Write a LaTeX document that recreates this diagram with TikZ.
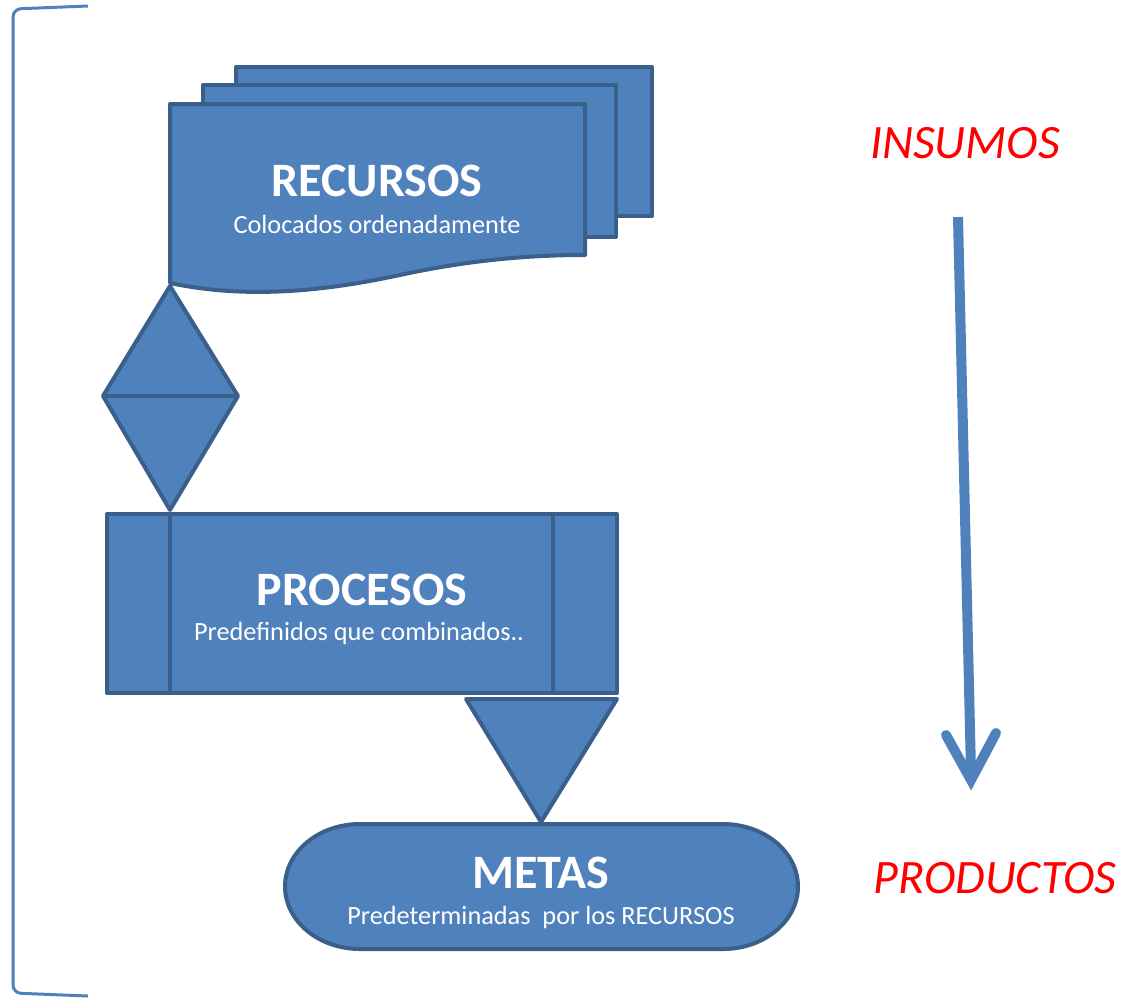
\documentclass[tikz,border=0pt]{standalone}
\usepackage{fontspec}
\setmainfont{Carlito}
\usetikzlibrary{calc}
\definecolor{fillb}{HTML}{4F81BD}
\definecolor{lineb}{HTML}{3A5F8B}
\begin{document}
\begin{tikzpicture}[x=1pt,y=-1pt,
  shapebox/.style={fill=fillb,draw=lineb,line width=4pt,line join=round},
  titletxt/.style={text=white,font=\bfseries\fontsize{48}{52}\selectfont,inner sep=0pt},
  subtxt/.style={text=white,font=\fontsize{26.3}{30}\selectfont,inner sep=0pt},
  redtxt/.style={text=red,font=\itshape\fontsize{48}{52}\selectfont,inner sep=0pt}]
\useasboundingbox (0,0) rectangle (1132,997);
% bracket
\draw[fillb,line width=3pt,rounded corners=8pt] (88,6) -- (13,9) -- (13,993) -- (88,996);
% multidocument
\draw[shapebox] (236,67) rectangle (652,216);
\draw[shapebox] (203,85) rectangle (616,237);
\draw[shapebox] (170,104) -- (585,104) -- (585,255)
  .. controls (520,255) and (460,262) .. (400,275)
  .. controls (330,290) and (250,300) .. (170,283) -- cycle;
\node[titletxt] (rec) at (377,181) {RECURSOS};
\node[subtxt] (recs) at (377,224) {Colocados ordenadamente};
% collate diamond
\coordinate (dtop) at (170,286);
\coordinate (dbot) at (170,510);
\draw[shapebox] (dtop) -- (238,396) -- (dbot) -- (103,396) -- cycle;
\draw[lineb,line width=4pt] (103,396) -- (238,396);
% predefined process
\draw[shapebox] (107,514) rectangle (617,693);
\draw[lineb,line width=4pt] (170,514) -- (170,693);
\draw[lineb,line width=4pt] (553,514) -- (553,693);
\node[titletxt] (pro) at (362,590) {PROCESOS};
\node[subtxt] (pros) at (359,633) {Predefinidos que combinados..};
% merge triangle
\draw[shapebox] (466,699) -- (617,699) -- (541,822) -- cycle;
% terminator
\draw[shapebox] (360,824) -- (723,824)
  arc[start angle=-90,end angle=90,x radius=75,y radius=62.5]
  -- (360,949)
  arc[start angle=90,end angle=270,x radius=75,y radius=62.5] -- cycle;
\node[titletxt] (met) at (541,873) {METAS};
\node[subtxt] (mets) at (541,917) {Predeterminadas\ \ por los RECURSOS};
% side labels
\node[redtxt] (ins) at (965,143) {INSUMOS};
\node[redtxt] (prod) at (995,878) {PRODUCTOS};
% arrow
\coordinate (a0) at (958,217);
\coordinate (a1) at (971,780);
\draw[fillb,line width=10pt] (a0) -- ($(a1)+(0,-8)$);
\draw[fillb,line width=10pt,line cap=round,line join=miter] (946,735) -- (a1) -- (996,733);
\end{tikzpicture}
\end{document}
